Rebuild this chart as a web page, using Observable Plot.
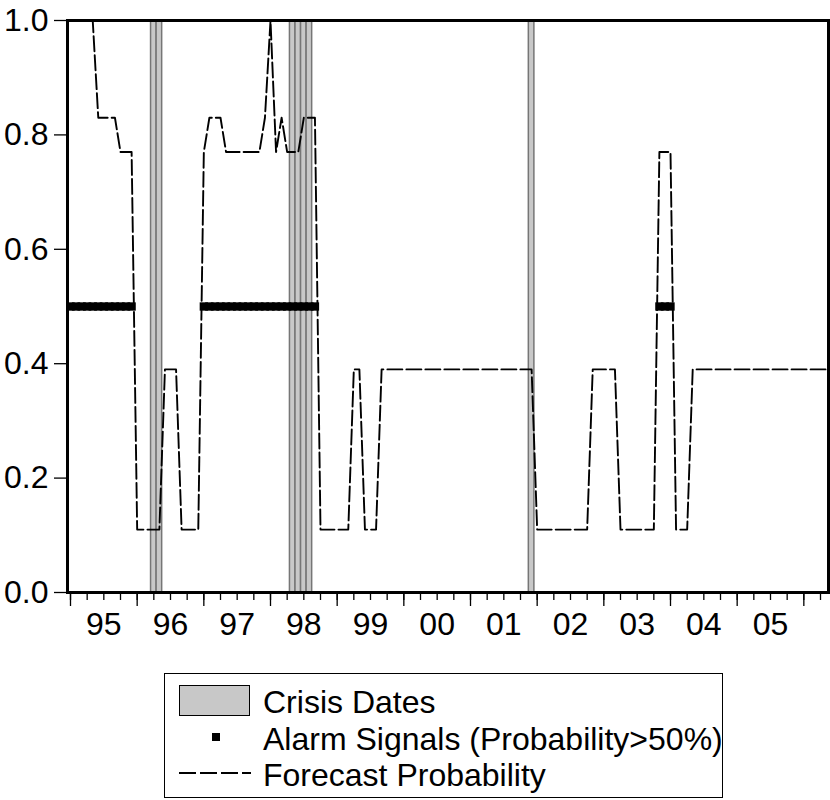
<!DOCTYPE html>
<html>
<head>
<meta charset="utf-8">
<script src="https://cdn.jsdelivr.net/npm/d3@7"></script>
<script src="https://cdn.jsdelivr.net/npm/@observablehq/plot@0.6"></script>
<style>
  body { margin: 0; background: #fff; font-family: "Liberation Sans", Arial, sans-serif; }
  #wrap { position: relative; width: 830px; height: 800px; }
  #chart { position: absolute; left: 0; top: 0; }
  #legend { position: absolute; left: 164px; top: 673px; width: 559px; height: 125px;
            border: 1.5px solid #000; box-sizing: border-box; font-size: 32px; color: #000; }
  .lt { position: absolute; left: 98px; line-height: 32px; white-space: nowrap; }
</style>
</head>
<body>
<div id="wrap">
  <div id="chart"></div>
  <div id="legend">
    <div style="position:absolute;left:13.8px;top:10.5px;width:71px;height:31px;background:#c8c8c8;border:1.5px solid #000;box-sizing:border-box"></div>
    <div class="lt" style="top:12px">Crisis Dates</div>
    <div style="position:absolute;left:46.8px;top:58.5px;width:8px;height:8px;background:#000"></div>
    <div class="lt" style="top:49px">Alarm Signals (Probability&gt;50%)</div>
    <svg style="position:absolute;left:13.8px;top:93.8px" width="72" height="10"><line x1="0" x2="72" y1="5" y2="5" stroke="#000" stroke-width="2" stroke-dasharray="17,4"/></svg>
    <div class="lt" style="top:84.5px">Forecast Probability</div>
  </div>
</div>
<script>
// Monthly observations, index 0 = 1995M1
const yearLabels = ["95","96","97","98","99","00","01","02","03","04","05"];
const yTicks = [0.0, 0.2, 0.4, 0.6, 0.8, 1.0];

const forecast = [
  1.00, 1.00, 1.00, 1.00, 1.00, 0.83, 0.83, 0.83, 0.83, 0.77, 0.77, 0.77,   // 1995
  0.11, 0.11, 0.11, 0.11, 0.11, 0.39, 0.39, 0.39, 0.11, 0.11, 0.11, 0.11,   // 1996
  0.77, 0.83, 0.83, 0.83, 0.77, 0.77, 0.77, 0.77, 0.77, 0.77, 0.77, 0.83,   // 1997
  1.00, 0.77, 0.83, 0.77, 0.77, 0.77, 0.83, 0.83, 0.83, 0.11, 0.11, 0.11,   // 1998
  0.11, 0.11, 0.11, 0.39, 0.39, 0.11, 0.11, 0.11, 0.39, 0.39, 0.39, 0.39,   // 1999
  0.39, 0.39, 0.39, 0.39, 0.39, 0.39, 0.39, 0.39, 0.39, 0.39, 0.39, 0.39,   // 2000
  0.39, 0.39, 0.39, 0.39, 0.39, 0.39, 0.39, 0.39, 0.39, 0.39, 0.39, 0.39,   // 2001
  0.11, 0.11, 0.11, 0.11, 0.11, 0.11, 0.11, 0.11, 0.11, 0.11, 0.39, 0.39,   // 2002
  0.39, 0.39, 0.39, 0.11, 0.11, 0.11, 0.11, 0.11, 0.11, 0.11, 0.77, 0.77,   // 2003
  0.77, 0.11, 0.11, 0.11, 0.39, 0.39, 0.39, 0.39, 0.39, 0.39, 0.39, 0.39,   // 2004
  0.39, 0.39, 0.39, 0.39, 0.39, 0.39, 0.39, 0.39, 0.39, 0.39, 0.39, 0.39,   // 2005
  0.39, 0.39, 0.39, 0.39, 0.39                                              // 2006
];

const alarmMonths = [0,1,2,3,4,5,6,7,8,9,10,11,
  24,25,26,27,28,29,30,31,32,33,34,35,36,37,38,39,40,41,42,43,44,
  106,107,108];
const alarmLevel = 0.5;
const crisisMonths = [15, 16, 40, 41, 42, 43, 83];

const series = forecast.map((p, i) => ({m: i, p}));
const quarterTicks = d3.range(0, 136, 3);
const yearTicks = d3.range(0, 133, 12);
const labelTicks = yearLabels.map((l, i) => 12 * i + 6);

const chart = Plot.plot({
  width: 830,
  height: 645,
  marginLeft: 67,
  marginRight: 2,
  marginTop: 20,
  marginBottom: 53,
  x: {domain: [-0.54, 136.44]},
  y: {domain: [0, 1]},
  style: {fontFamily: "'Liberation Sans', Arial, sans-serif", fontSize: "32px", color: "#000", background: "#fff"},
  marks: [
    Plot.rect(crisisMonths, {x1: d => d - 0.5, x2: d => d + 0.5, y1: 0, y2: 1,
      fill: "#c8c8c8", stroke: "#767676", strokeWidth: 1.5}),
    Plot.frame({stroke: "#000", strokeWidth: 3}),
    Plot.lineY(series, {x: "m", y: "p", stroke: "#000", strokeWidth: 1.9, strokeDasharray: "15,4"}),
    Plot.dot(alarmMonths, {x: d => d, y: () => alarmLevel, symbol: "square", r: 4.7, fill: "#000", stroke: "none"}),
    Plot.axisY({ticks: yTicks, tickFormat: d3.format(".1f"), tickSize: 13, tickPadding: 6,
      strokeWidth: 1.3, fontSize: 32, label: null}),
    Plot.axisX({ticks: quarterTicks, tickSize: 8, tickFormat: () => "", strokeWidth: 1.3, label: null}),
    Plot.axisX({ticks: yearTicks, tickSize: 14, tickFormat: () => "", strokeWidth: 1.3, label: null}),
    Plot.axisX({ticks: labelTicks, tickSize: 0, tickPadding: 20, fontSize: 32,
      tickFormat: d => yearLabels[(d - 6) / 12], label: null})
  ]
});
document.getElementById("chart").appendChild(chart);
</script>
</body>
</html>
